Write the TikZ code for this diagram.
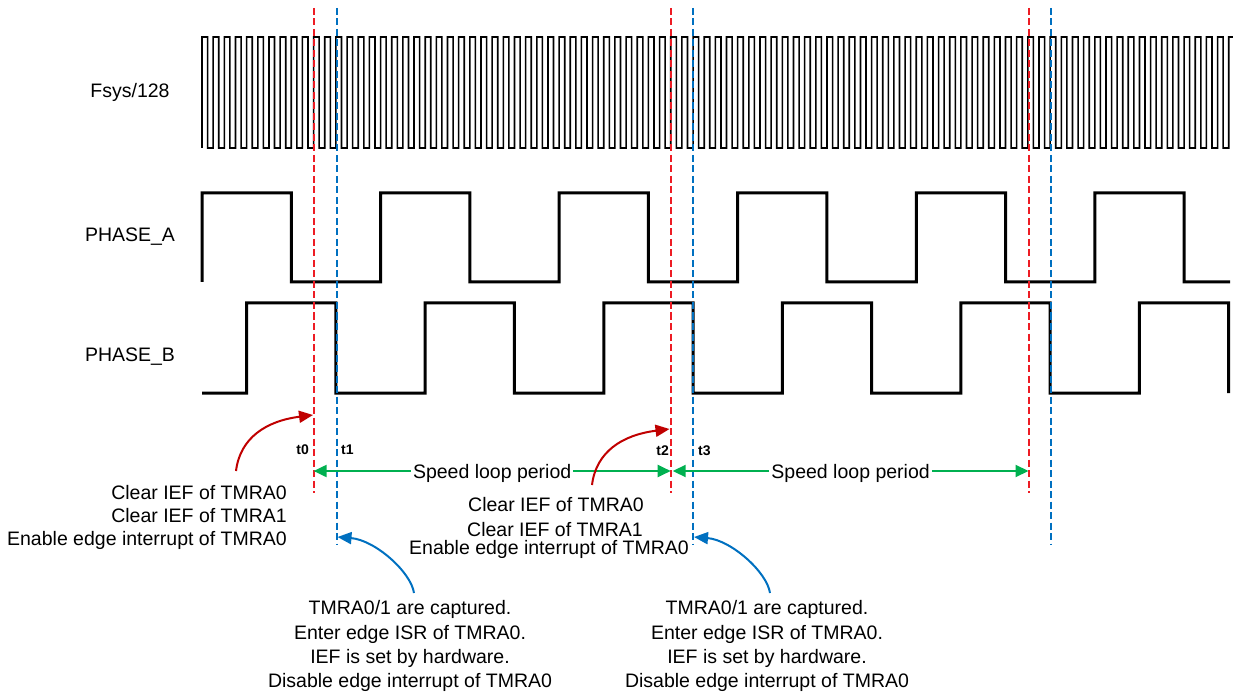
\documentclass[tikz,border=0pt]{standalone}
\usepackage{fontspec}
\setmainfont{Liberation Sans}
\usetikzlibrary{arrows.meta}
\definecolor{dashred}{RGB}{237,28,36}
\definecolor{dashblue}{RGB}{0,112,192}
\definecolor{curvered}{RGB}{192,0,0}
\definecolor{curveblue}{RGB}{0,112,192}
\definecolor{arrgreen}{RGB}{0,176,80}
\tikzset{
  txt/.style={inner sep=0pt, font=\fontsize{19.5}{23}\selectfont},
  tlab/.style={inner sep=0pt, font=\fontsize{14}{16}\selectfont\bfseries},
  clk/.style={line width=1.6pt, line join=miter},
  phase/.style={line width=3pt, line join=miter},
  reddash/.style={draw=dashred, line width=2pt, dash pattern=on 7pt off 3.5pt},
  bluedash/.style={draw=dashblue, line width=2pt, dash pattern=on 7pt off 3.5pt},
  garr/.style={draw=arrgreen, line width=2pt, {Triangle[length=13pt,width=12pt]}-{Triangle[length=13pt,width=12pt]}},
  glabel/.style={fill=white, inner sep=2pt, font=\fontsize{19.5}{23}\selectfont, yshift=-2pt},
  rcurve/.style={draw=curvered, line width=2pt, -{Triangle[length=14pt,width=12pt]}},
  bcurve/.style={draw=curveblue, line width=2pt, -{Triangle[length=14pt,width=12pt]}}
}
\begin{document}
\begin{tikzpicture}[x=1pt,y=-1pt]
\useasboundingbox (0,0) rectangle (1233,692);

% signal names
\node[txt, anchor=base] (fsys) at (130,98) {Fsys/128};
\node[txt, anchor=base] (pha) at (130,241.7) {PHASE\_A};
\node[txt, anchor=base] (phb) at (130,361.7) {PHASE\_B};

% clock
\draw[clk] (202,148) \foreach \k in {0,...,91}{
  -- ({202+\k*11.16},37) -- ({207.58+\k*11.16},37)
  -- ({207.58+\k*11.16},148) -- ({213.16+\k*11.16},148)}
  -- (1228.72,37) -- (1233,37);

% PHASE_A
\draw[phase] (202,282) \foreach \k in {0,...,4}{
  -- ({202+\k*178.56},193) -- ({291.28+\k*178.56},193)
  -- ({291.28+\k*178.56},282) -- ({380.56+\k*178.56},282)}
  -- (1094.8,193) -- (1184.08,193) -- (1184.08,282) -- (1230,282);

% PHASE_B
\draw[phase] (202,393) -- (246.64,393) \foreach \k in {0,...,4}{
  -- ({246.64+\k*178.56},303) -- ({335.92+\k*178.56},303)
  -- ({335.92+\k*178.56},393) -- ({425.2+\k*178.56},393)}
  -- (1139.44,303) -- (1228.72,303) -- (1228.72,393);

% dashed markers
\coordinate (r0t) at (313.6,8);  \coordinate (r0b) at (313.6,493);
\coordinate (r1t) at (670.7,8);  \coordinate (r1b) at (670.7,493);
\coordinate (r2t) at (1028.5,8); \coordinate (r2b) at (1028.5,493);
\coordinate (b0t) at (336.5,8);  \coordinate (b0b) at (336.5,545);
\coordinate (b1t) at (693.2,8);  \coordinate (b1b) at (693.2,545);
\coordinate (b2t) at (1050.6,8); \coordinate (b2b) at (1050.6,545);
\draw[reddash] (r0t) -- (r0b);
\draw[reddash] (r1t) -- (r1b);
\draw[reddash] (r2t) -- (r2b);
\draw[bluedash] (b0t) -- (b0b);
\draw[bluedash] (b1t) -- (b1b);
\draw[bluedash] (b2t) -- (b2b);

% time labels
\node[tlab, anchor=base east] (t0) at (309,454) {t0};
\node[tlab, anchor=base west] (t1) at (341,454) {t1};
\node[tlab, anchor=base east] (t2) at (669,455) {t2};
\node[tlab, anchor=base west] (t3) at (698,455) {t3};

% speed loop periods
\coordinate (g0l) at (313.6,471); \coordinate (g0r) at (670.7,471);
\coordinate (g1l) at (672.7,471); \coordinate (g1r) at (1028.5,471);
\draw[garr] (g0l) -- node[glabel] (sp0) {Speed loop period} (g0r);
\draw[garr] (g1l) -- node[glabel] (sp1) {Speed loop period} (g1r);

% left annotation
\node[txt, anchor=base east] (la1) at (287,499) {Clear IEF of TMRA0};
\node[txt, anchor=base east] (la2) at (287,522) {Clear IEF of TMRA1};
\node[txt, anchor=base east] (la3) at (287,545) {Enable edge interrupt of TMRA0};

% middle annotation
\node[txt, anchor=base] (ma1) at (556,511) {Clear IEF of TMRA0};
\node[txt, anchor=base] (ma2) at (555,536) {Clear IEF of TMRA1};
\node[txt, anchor=base] (ma3) at (549,554) {Enable edge interrupt of TMRA0};

% bottom annotations
\node[txt, anchor=base] (ba1) at (410,614) {TMRA0/1 are captured.};
\node[txt, anchor=base] (ba2) at (410,639) {Enter edge ISR of TMRA0.};
\node[txt, anchor=base] (ba3) at (410,663) {IEF is set by hardware.};
\node[txt, anchor=base] (ba4) at (410,687) {Disable edge interrupt of TMRA0};
\node[txt, anchor=base] (bb1) at (767,614) {TMRA0/1 are captured.};
\node[txt, anchor=base] (bb2) at (767,639) {Enter edge ISR of TMRA0.};
\node[txt, anchor=base] (bb3) at (767,663) {IEF is set by hardware.};
\node[txt, anchor=base] (bb4) at (767,687) {Disable edge interrupt of TMRA0};

% curved arrows
\coordinate (rc0s) at (236,471); \coordinate (rc0e) at (313,415);
\coordinate (rc1s) at (592,485); \coordinate (rc1e) at (669.5,429);
\draw[rcurve] (rc0s) .. controls (240,438) and (266,421) .. (rc0e);
\draw[rcurve] (rc1s) .. controls (596,452) and (622,435) .. (rc1e);
\coordinate (bc0s) at (414,593); \coordinate (bc0e) at (337.5,537);
\coordinate (bc1s) at (770,593); \coordinate (bc1e) at (694,537);
\draw[bcurve] (bc0s) .. controls (411,572) and (375,540) .. (bc0e);
\draw[bcurve] (bc1s) .. controls (767,572) and (731,540) .. (bc1e);
\end{tikzpicture}
\end{document}
